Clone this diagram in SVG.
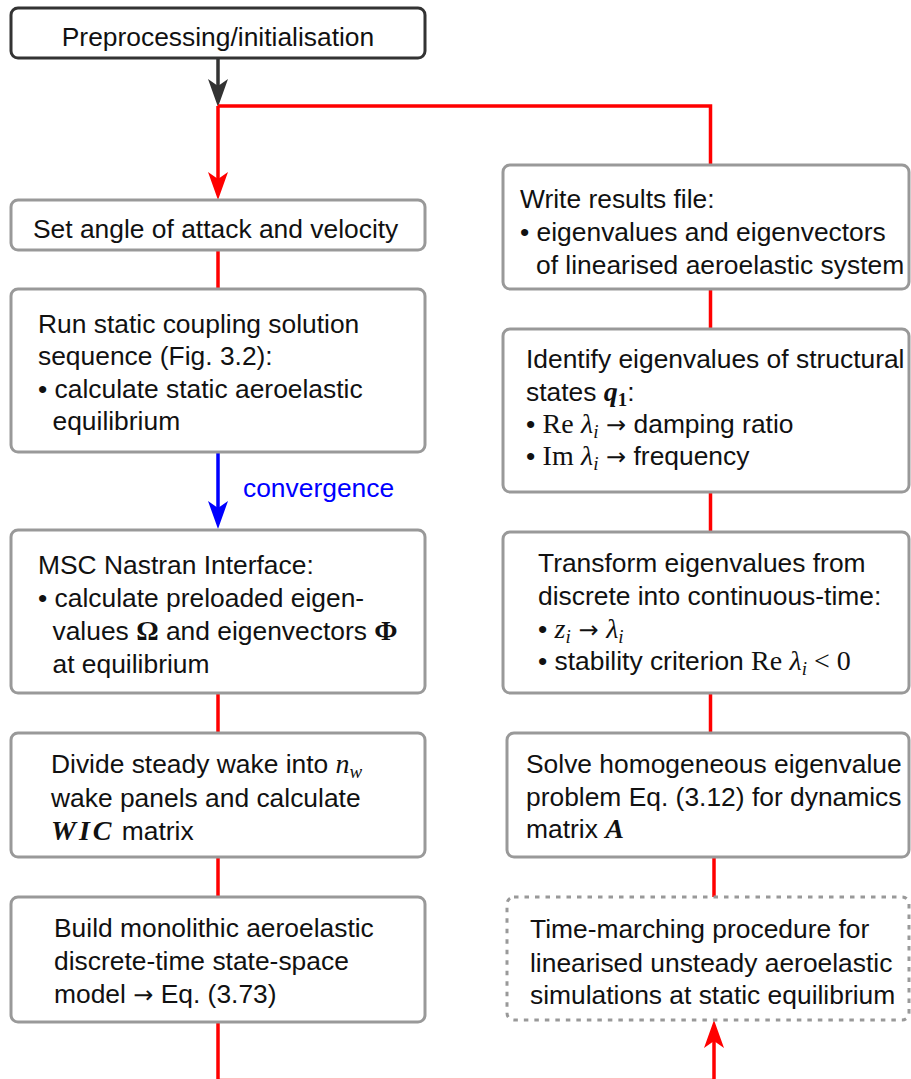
<svg xmlns="http://www.w3.org/2000/svg" width="911" height="1079" viewBox="0 0 911 1079">
  <style>
    .box { fill: #ffffff; stroke: #999999; stroke-width: 3; }
    .start { fill: #ffffff; stroke: #333333; stroke-width: 3; }
    .dotted { fill: #ffffff; stroke: #999999; stroke-width: 3; stroke-dasharray: 4.5 6; }
    .t { font-family: "Liberation Sans", Arial, Helvetica, sans-serif; font-size: 26.4px; fill: #111111; }
    .m { font-family: "Liberation Serif", "Times New Roman", serif; font-size: 28px; }
    .mi { font-family: "Liberation Serif", "Times New Roman", serif; font-style: italic; font-size: 28px; }
    .mb { font-family: "Liberation Serif", "Times New Roman", serif; font-weight: bold; font-size: 28px; }
    .mbi { font-family: "Liberation Serif", "Times New Roman", serif; font-weight: bold; font-style: italic; font-size: 28px; }
    .ar { font-family: "DejaVu Sans", sans-serif; font-size: 24px; }
    .sub { font-size: 19px; }
    .red { fill: none; stroke: #ff0000; stroke-width: 3.5; }
    .blue { fill: none; stroke: #0000ff; stroke-width: 3.5; }
    .dark { fill: none; stroke: #333333; stroke-width: 3.5; }
    .lbl { font-family: "Liberation Sans", Arial, Helvetica, sans-serif; font-size: 26.4px; fill: #0000ff; }
  </style>
  <defs>
    <!-- arrowhead pointing down, tip at origin -->
    <path id="head" d="M0,0 L-10,-28 L0,-21 L10,-28 Z"/>
  </defs>

  <!-- connectors -->
  <g id="connectors">
    <path class="dark" d="M218,58 V100"/>
    <use href="#head" x="218" y="107" fill="#333333"/>
    <path class="red" d="M218,106 H710.5 V165"/>
    <path class="red" d="M218,106 V192"/>
    <use href="#head" x="218" y="200" fill="#ff0000"/>
    <path class="red" d="M218,250 V289"/>
    <path class="blue" d="M218,452 V520"/>
    <use href="#head" x="218" y="529" fill="#0000ff"/>
    <text class="lbl" x="243" y="497">convergence</text>
    <path class="red" d="M218,693 V733"/>
    <path class="red" d="M218,857 V897"/>
    <path class="red" d="M218,1022 V1080.6 H714 V1028"/>
    <use href="#head" transform="translate(714,1020) rotate(180)" fill="#ff0000"/>
    <path class="red" d="M710.5,289 V329"/>
    <path class="red" d="M710.5,492 V532"/>
    <path class="red" d="M710.5,693 V733"/>
    <path class="red" d="M714,857 V897"/>
  </g>

  <!-- left column -->
  <g id="n-preprocessing">
    <rect class="start" x="11" y="8" width="414" height="50" rx="7"/>
    <text class="t" x="218" y="46" text-anchor="middle">Preprocessing/initialisation</text>
  </g>
  <g id="n-set-angle">
    <rect class="box" x="11" y="200" width="414" height="50" rx="7"/>
    <text class="t" x="33" y="238">Set angle of attack and velocity</text>
  </g>
  <g id="n-static-coupling">
    <rect class="box" x="11" y="289" width="414" height="163" rx="7"/>
    <text class="t" x="38" y="333">Run static coupling solution</text>
    <text class="t" x="38" y="365">sequence (Fig. 3.2):</text>
    <text class="t" x="38" y="398">• calculate static aeroelastic</text>
    <text class="t" x="52.5" y="430">equilibrium</text>
  </g>
  <g id="n-nastran">
    <rect class="box" x="11" y="530" width="414" height="163" rx="7"/>
    <text class="t" x="38" y="574">MSC Nastran Interface:</text>
    <text class="t" x="38" y="607">• calculate preloaded eigen-</text>
    <text class="t" x="52.5" y="640">values <tspan class="mb">Ω</tspan> and eigenvectors <tspan class="mb">Φ</tspan></text>
    <text class="t" x="52.5" y="673">at equilibrium</text>
  </g>
  <g id="n-wake">
    <rect class="box" x="11" y="733" width="414" height="124" rx="7"/>
    <text class="t" x="51" y="773">Divide steady wake into <tspan class="mi">n</tspan><tspan class="mi sub" dy="5">w</tspan></text>
    <text class="t" x="51" y="807">wake panels and calculate</text>
    <text class="t" x="51" y="840"><tspan class="mbi" letter-spacing="3">WIC</tspan> matrix</text>
  </g>
  <g id="n-state-space">
    <rect class="box" x="11" y="897" width="414" height="125" rx="7"/>
    <text class="t" x="54" y="937">Build monolithic aeroelastic</text>
    <text class="t" x="54" y="970">discrete-time state-space</text>
    <text class="t" x="54" y="1003">model <tspan class="ar">→</tspan> Eq. (3.73)</text>
  </g>

  <!-- right column -->
  <g id="n-results">
    <rect class="box" x="503" y="165" width="406" height="124" rx="7"/>
    <text class="t" x="520" y="208">Write results file:</text>
    <text class="t" x="520" y="241">• eigenvalues and eigenvectors</text>
    <text class="t" x="536" y="274">of linearised aeroelastic system</text>
  </g>
  <g id="n-identify">
    <rect class="box" x="503" y="329" width="406" height="163" rx="7"/>
    <text class="t" x="526" y="368">Identify eigenvalues of structural</text>
    <text class="t" x="526" y="401">states <tspan class="mbi">q</tspan><tspan class="mb sub" dy="5">1</tspan><tspan dy="-5">:</tspan></text>
    <text class="t" x="526" y="433">• <tspan class="m">Re</tspan> <tspan class="mi">λ</tspan><tspan class="mi sub" dy="5">i</tspan><tspan class="ar" dy="-5"> →</tspan> damping ratio</text>
    <text class="t" x="526" y="465">• <tspan class="m">Im</tspan> <tspan class="mi">λ</tspan><tspan class="mi sub" dy="5">i</tspan><tspan class="ar" dy="-5"> →</tspan> frequency</text>
  </g>
  <g id="n-transform">
    <rect class="box" x="503" y="532" width="406" height="161" rx="7"/>
    <text class="t" x="538" y="572">Transform eigenvalues from</text>
    <text class="t" x="538" y="605">discrete into continuous-time:</text>
    <text class="t" x="538" y="638">• <tspan class="mi">z</tspan><tspan class="mi sub" dy="5">i</tspan><tspan class="ar" dy="-5"> → </tspan><tspan class="mi">λ</tspan><tspan class="mi sub" dy="5">i</tspan></text>
    <text class="t" x="538" y="670">• stability criterion <tspan class="m">Re</tspan> <tspan class="mi">λ</tspan><tspan class="mi sub" dy="5">i</tspan><tspan class="m" dy="-5"> &lt; 0</tspan></text>
  </g>
  <g id="n-eigen-solve">
    <rect class="box" x="507" y="733" width="402" height="124" rx="7"/>
    <text class="t" x="526" y="773">Solve homogeneous eigenvalue</text>
    <text class="t" x="526" y="806">problem Eq. (3.12) for dynamics</text>
    <text class="t" x="526" y="838">matrix <tspan class="mbi">A</tspan></text>
  </g>
  <g id="n-time-marching">
    <rect class="dotted" x="507" y="897" width="402" height="123" rx="7"/>
    <text class="t" x="530" y="938">Time-marching procedure for</text>
    <text class="t" x="530" y="972">linearised unsteady aeroelastic</text>
    <text class="t" x="530" y="1004">simulations at static equilibrium</text>
  </g>
</svg>
